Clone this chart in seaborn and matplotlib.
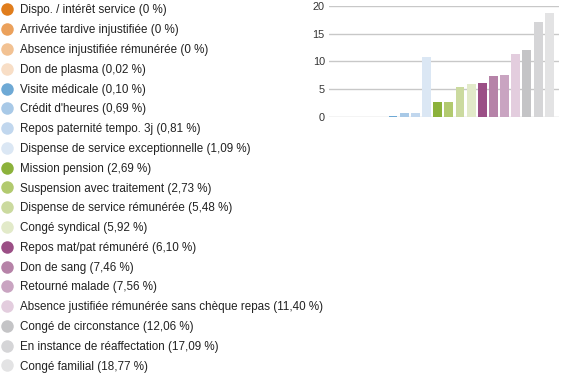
import matplotlib
matplotlib.use("Agg")
import matplotlib.pyplot as plt
from matplotlib.lines import Line2D
import seaborn as sns
import pandas as pd

categories = [
    "Dispo. / intérêt service", "Arrivée tardive injustifiée", "Absence injustifiée rémunérée",
    "Don de plasma", "Visite médicale", "Crédit d'heures", "Repos paternité tempo. 3j",
    "Dispense de service exceptionnelle", "Mission pension", "Suspension avec traitement",
    "Dispense de service rémunérée", "Congé syndical", "Repos mat/pat rémunéré",
    "Don de sang", "Retourné malade", "Absence justifiée rémunérée sans chèque repas",
    "Congé de circonstance", "En instance de réaffectation", "Congé familial",
]
legend_pct = ["0 %", "0 %", "0 %", "0,02 %", "0,10 %", "0,69 %", "0,81 %", "1,09 %", "2,69 %",
              "2,73 %", "5,48 %", "5,92 %", "6,10 %", "7,46 %", "7,56 %", "11,40 %", "12,06 %",
              "17,09 %", "18,77 %"]
# bar heights as drawn in the chart
values = [0, 0, 0, 0.02, 0.10, 0.69, 0.81, 10.9, 2.69, 2.73, 5.48, 5.92, 6.10, 7.46, 7.56,
          11.40, 12.06, 17.09, 18.77]
colors = ["#E07D1C", "#EBA15C", "#F2C293", "#F8DEC6", "#6EA9D5", "#A8C9E7", "#C1D7EE",
          "#DBE7F4", "#8CB23B", "#B2CA6F", "#CBDA9F", "#E2EAC9", "#9B4F86", "#B683A8",
          "#C9A4C1", "#E3CDDE", "#C4C4C6", "#D5D5D7", "#E3E3E4"]
yticks = [0, 5, 10, 15, 20]

plt.rcParams['font.family'] = ['Liberation Sans', 'DejaVu Sans']

df = pd.DataFrame({"cat": categories, "val": values})

fig = plt.figure(figsize=(5.61, 3.74), dpi=100)
ax = fig.add_axes([329/561, 1 - 117/374, 230/561, 111/374])
sns.barplot(data=df, x="cat", y="val", hue="cat", palette=colors, order=categories,
            hue_order=categories, dodge=False, legend=False, width=0.8, ax=ax, saturation=1)
ax.set_ylim(0, 20)
ax.set_xlim(-1.73, 18.87)
ax.set_yticks(yticks)
ax.set_xticks([])
ax.set_xlabel("")
ax.set_ylabel("")
for s in ax.spines.values():
    s.set_visible(False)
ax.grid(False)
for y in yticks:
    ax.axhline(y, color="#C8C8C8", lw=1.0, zorder=0)
ax.tick_params(axis="y", length=0, labelsize=7.8, labelcolor="#333333", pad=3)

fs = 8.4
handles = [Line2D([], [], marker="o", linestyle="", markersize=9, markerfacecolor=c,
                  markeredgecolor="none") for c in colors]
labels = [f"{c} ({p})" for c, p in zip(categories, legend_pct)]
fig.legend(handles, labels, loc="upper left", bbox_to_anchor=(-0.0062, 1.0005), frameon=False,
           fontsize=fs, labelspacing=0.667, handletextpad=0.61, handlelength=1.0,
           borderaxespad=0, labelcolor="#222222")

fig.savefig("out.png", dpi=100)
